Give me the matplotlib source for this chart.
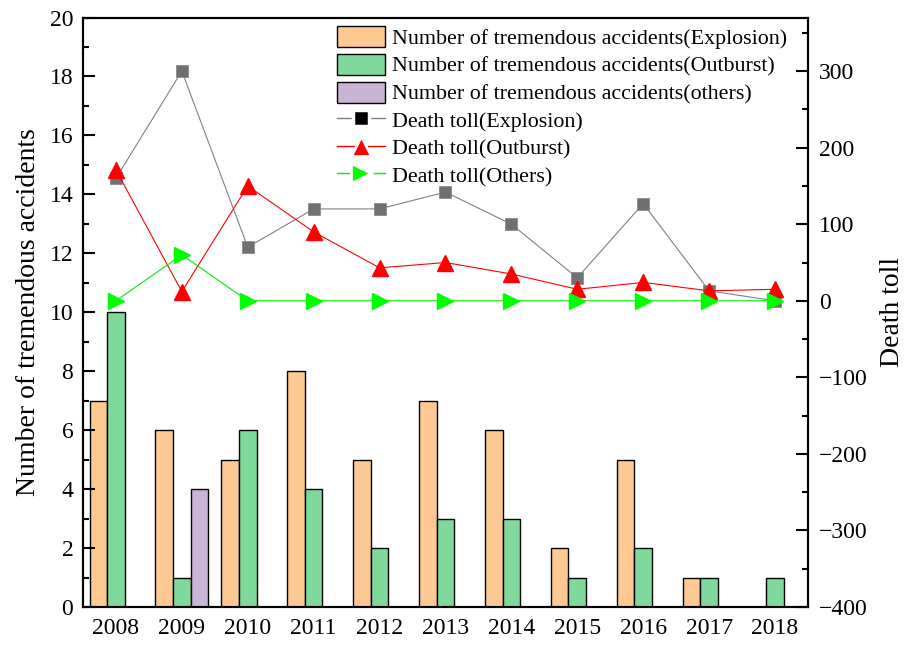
import matplotlib
matplotlib.use("Agg")
import matplotlib.pyplot as plt
import numpy as np
from matplotlib.lines import Line2D
from matplotlib.patches import Patch
from matplotlib.ticker import MultipleLocator

years = ["2008", "2009", "2010", "2011", "2012", "2013", "2014", "2015", "2016", "2017", "2018"]

acc_explosion = [7, 6, 5, 8, 5, 7, 6, 2, 5, 1, 0]
acc_outburst = [10, 1, 6, 4, 2, 3, 3, 1, 2, 1, 1]
acc_others = [0, 4, 0, 0, 0, 0, 0, 0, 0, 0, 0]

death_explosion = [160, 300, 70, 120, 120, 142, 100, 30, 127, 13, 0]
death_outburst = [171, 12, 150, 90, 43, 50, 35, 15, 24, 13, 15]
death_others = [0, 60, 0, 0, 0, 0, 0, 0, 0, 0, 0]

plt.rcParams["font.family"] = ["Liberation Serif", "DejaVu Serif"]
plt.rcParams["mathtext.fontset"] = "stix"

c_exp = "#FFC993"
c_out = "#7FD99A"
c_oth = "#C9B3D6"

fig = plt.figure(figsize=(9.06, 6.49), dpi=100)
ax = fig.add_axes([0.0916, 0.0647, 0.8002, 0.9083])
ax2 = ax.twinx()

x = np.arange(len(years))
w = 0.267
ax.bar(x - w, acc_explosion, w, color=c_exp, edgecolor="black", linewidth=1.0)
ax.bar(x, acc_outburst, w, color=c_out, edgecolor="black", linewidth=1.0)
ax.bar(x + w, acc_others, w, color=c_oth, edgecolor="black", linewidth=1.0)

ax.set_xlim(-0.5, len(years) - 0.5)
ax.set_ylim(0, 20)
ax.set_xticks(x)
ax.set_xticklabels(years)
ax.yaxis.set_major_locator(MultipleLocator(2))
ax.yaxis.set_minor_locator(MultipleLocator(1))
ax.tick_params(axis="y", which="major", direction="in", length=8.5, width=1.5,
               labelsize=17, pad=7)
ax.tick_params(axis="y", which="minor", direction="in", length=4.3, width=1.5)
ax.tick_params(axis="x", which="both", length=0, labelsize=17, pad=8)
ax.set_ylabel("Number of tremendous accidents", fontsize=20, labelpad=6)

ax2.plot(x, death_explosion, color="#808080", linewidth=0.8, marker="s",
         markersize=8.5, markerfacecolor="#707070", markeredgecolor="#8a8a8a",
         markeredgewidth=0.6, zorder=3)
ax2.plot(x, death_outburst, color="#FF0000", linewidth=0.8, marker="^",
         markersize=12, markerfacecolor="#FF0000", markeredgecolor="#FF0000",
         zorder=4)
ax2.plot(x, death_others, color="#00EE00", linewidth=0.8, marker=">",
         markersize=12, markerfacecolor="#00FF00", markeredgecolor="#00FF00",
         zorder=5)

ax2.set_ylim(-400, 370)
ax2.yaxis.set_major_locator(MultipleLocator(100))
ax2.yaxis.set_minor_locator(MultipleLocator(50))
ax2.tick_params(axis="y", which="major", direction="in", length=8.5, width=1.5,
                labelsize=17, pad=8)
ax2.tick_params(axis="y", which="minor", direction="in", length=4.3, width=1.5)
ax2.set_ylabel("Death toll", fontsize=20, labelpad=9)

for a in (ax, ax2):
    for s in a.spines.values():
        s.set_linewidth(1.5)

# legend line handles: white marker edge leaves a small gap in the line
handles = [
    Patch(facecolor=c_exp, edgecolor="black", linewidth=1.0),
    Patch(facecolor=c_out, edgecolor="black", linewidth=1.0),
    Patch(facecolor=c_oth, edgecolor="black", linewidth=1.0),
    Line2D([], [], color="#808080", linewidth=1.0, marker="s", markersize=11.5,
           markerfacecolor="black", markeredgecolor="white", markeredgewidth=2.5),
    Line2D([], [], color="#FF0000", linewidth=1.0, marker="^", markersize=15,
           markerfacecolor="#FF0000", markeredgecolor="white", markeredgewidth=2.0),
    Line2D([], [], color="#00EE00", linewidth=1.0, marker=">", markersize=15,
           markerfacecolor="#00FF00", markeredgecolor="white", markeredgewidth=2.0),
]
labels = [
    "Number of tremendous accidents(Explosion)",
    "Number of tremendous accidents(Outburst)",
    "Number of tremendous accidents(others)",
    "Death toll(Explosion)",
    "Death toll(Outburst)",
    "Death toll(Others)",
]
ax2.legend(handles, labels, loc="upper left", bbox_to_anchor=(0.350, 0.985),
           frameon=False, fontsize=15.8, borderpad=0, borderaxespad=0,
           handlelength=2.2, handleheight=1.1, handletextpad=0.3,
           labelspacing=0.21)

fig.savefig("out.png", dpi=100)
